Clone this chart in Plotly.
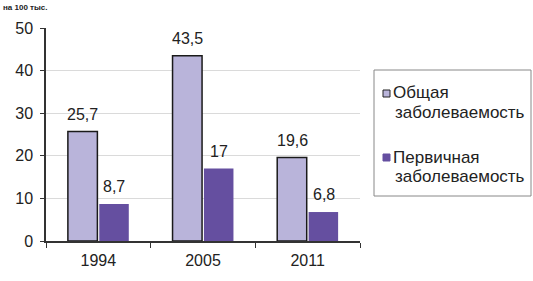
import plotly.graph_objects as go

years = ["1994", "2005", "2011"]
total = [25.7, 43.5, 19.6]
primary = [8.7, 17, 6.8]
total_lbl = ["25,7", "43,5", "19,6"]
primary_lbl = ["8,7", "17", "6,8"]
names = ["Общая<br>заболеваемость", "Первичная<br>заболеваемость"]
colors = ["#B9B4DA", "#654FA0"]

W, H = 533, 281
L, R, T, B = 46, 173, 28, 40
pw, ph = W - L - R, H - T - B

def px(x):  # figure pixel -> paper x
    return (x - L) / pw

def py(y):  # figure pixel -> paper y
    return (H - B - y) / ph

fig = go.Figure()
fig.add_trace(go.Bar(x=years, y=total, name="a",
                     marker=dict(color=colors[0], line=dict(color="#1a1a1a", width=1.5))))
fig.add_trace(go.Bar(x=years, y=primary, name="b",
                     marker=dict(color=colors[1], line=dict(width=0))))

# value labels (x given as category index)
for vals, lbls, dx in [(total, total_lbl, -15.5), (primary, primary_lbl, 16)]:
    for i, (v, t) in enumerate(zip(vals, lbls)):
        fig.add_annotation(x=i, y=v, text=t, xref="x", yref="y", showarrow=False,
                           xshift=dx, yshift=7, yanchor="bottom",
                           font=dict(size=16, color="#222"))

fig.update_layout(
    width=W, height=H,
    margin=dict(l=L, r=R, t=T, b=B, autoexpand=False),
    paper_bgcolor="white", plot_bgcolor="white",
    barmode="group", bargap=0.4, bargroupgap=0.06,
    font=dict(family="Liberation Sans, Arial", size=16, color="#222"),
    showlegend=False,
)

# legend (box, markers, texts)
fig.add_shape(type="rect", xref="paper", yref="paper",
              x0=px(374), x1=px(531), y0=py(196), y1=py(70),
              line=dict(color="#888", width=1), fillcolor="rgba(0,0,0,0)")
for i, (nm, c) in enumerate(zip(names, colors)):
    y_top = [90, 154][i]
    fig.add_shape(type="rect", xref="paper", yref="paper",
                  x0=px(383), x1=px(390), y0=py(y_top + 7), y1=py(y_top),
                  fillcolor=c, line=dict(color="#222" if i == 0 else c, width=1))
    for j, part in enumerate(nm.split("<br>")):
        fig.add_annotation(text=part, xref="paper", yref="paper",
                           x=px(391 + 2 * j), y=py(y_top + 3 + 19 * j),
                           xanchor="left", yanchor="middle",
                           showarrow=False, font=dict(size=17, color="#222"))

fig.add_annotation(text="<b>на 100 тыс.</b>", xref="paper", yref="paper",
                   x=px(1), y=py(1), xanchor="left", yanchor="top",
                   showarrow=False, font=dict(size=8, color="#222"))
fig.update_xaxes(type="category", range=[-0.5, len(years) - 0.5], showline=True,
                 linecolor="#333", linewidth=1.5,
                 ticks="outside", tickson="boundaries", ticklen=5, tickcolor="#333",
                 ticklabelstandoff=4, tickfont=dict(size=16, color="#222"))
fig.update_yaxes(range=[0, 50], dtick=10, showline=True, linecolor="#333", linewidth=1.5,
                 ticks="outside", ticklen=4, tickcolor="#333", ticklabelstandoff=4,
                 gridcolor="#dadada", gridwidth=1, zeroline=False,
                 tickfont=dict(size=16, color="#222"))
fig.write_html("out.html", config={"displayModeBar": False},
               post_script="document.body.style.margin='0';")
